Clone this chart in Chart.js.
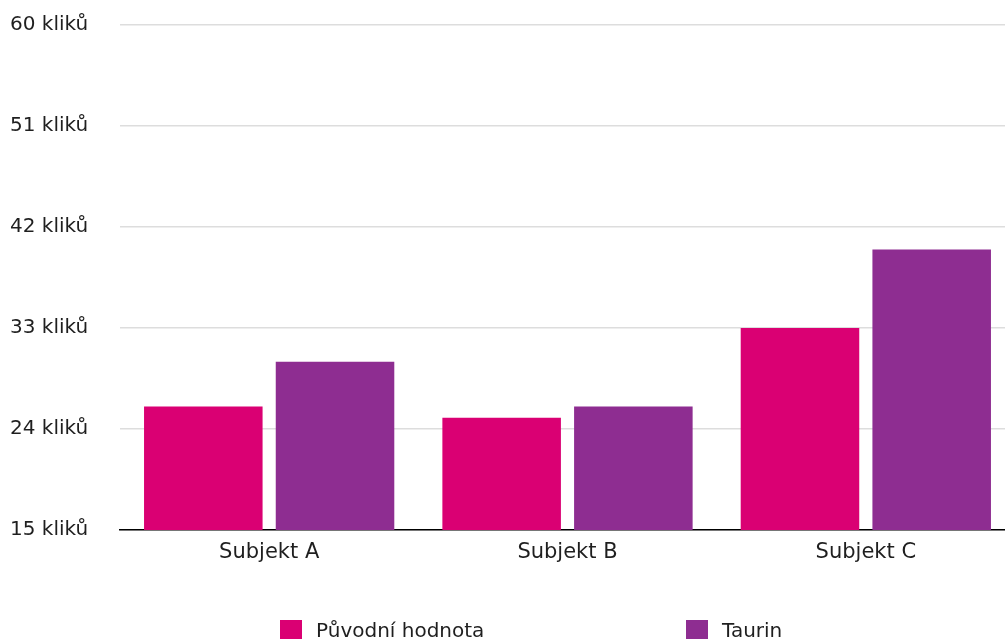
<!DOCTYPE html>
<html lang="cs">
<head>
    <meta charset="UTF-8">
    <title>Kliky</title>
    <style>
        html, body {
            margin: 0;
            padding: 0;
            background: #ffffff;
            overflow: hidden;
        }
        #wrap {
            width: 1015px; /* plot runs a little past the right edge, like the original */
            height: 639px;
            position: relative;
        }
    </style>
    <script src="https://cdn.jsdelivr.net/npm/chart.js"></script>
</head>
<body>
    <div id="wrap"><canvas id="klikyChart"></canvas></div>
    <script>
        const subjects = ['Subjekt A', 'Subjekt B', 'Subjekt C'];
        const puvodniHodnota = [26, 25, 33];
        const taurin = [30, 26, 40];
        const yTicks = [15, 24, 33, 42, 51, 60];

        const FONT = '"DejaVu Sans", sans-serif';
        const TEXT = '#1f1f1f';

        // legend drawn under the plot, items spread out like the original
        const bottomLegend = {
            id: 'bottomLegend',
            afterDraw(chart) {
                const ctx = chart.ctx;
                const starts = [280, 686];
                const y = chart.chartArea.bottom + 90;
                ctx.save();
                ctx.font = '20px ' + FONT;
                ctx.textBaseline = 'middle';
                ctx.textAlign = 'left';
                chart.data.datasets.forEach((ds, i) => {
                    ctx.fillStyle = ds.backgroundColor;
                    ctx.fillRect(starts[i], y, 22, 22);
                    ctx.fillStyle = TEXT;
                    ctx.fillText(ds.label, starts[i] + 36, y + 12);
                });
                ctx.restore();
            }
        };

        new Chart(document.getElementById('klikyChart'), {
            type: 'bar',
            data: {
                labels: subjects,
                datasets: [{
                    label: 'Původní hodnota',
                    data: puvodniHodnota,
                    backgroundColor: '#da0073'
                }, {
                    label: 'Taurin',
                    data: taurin,
                    backgroundColor: '#8e2d91'
                }]
            },
            options: {
                responsive: true,
                maintainAspectRatio: false,
                animation: false,
                categoryPercentage: 0.883,
                barPercentage: 0.9,
                layout: { padding: { left: 10, right: 0, top: 25, bottom: 0 } },
                plugins: {
                    legend: { display: false },
                    tooltip: { enabled: false }
                },
                scales: {
                    x: {
                        grid: { display: false, drawTicks: false },
                        border: { display: true, color: '#000000', width: 1.5 },
                        ticks: { color: TEXT, font: { family: FONT, size: 21 }, padding: 10 },
                        afterFit(scale) { scale.height = 109; }
                    },
                    y: {
                        min: yTicks[0],
                        max: yTicks[yTicks.length - 1],
                        afterBuildTicks(scale) {
                            scale.ticks = yTicks.map(v => ({ value: v }));
                        },
                        grid: { color: '#dddddd', lineWidth: 1.5, drawTicks: false },
                        border: { display: false },
                        ticks: {
                            color: TEXT,
                            crossAlign: 'far',
                            font: { family: FONT, size: 20 },
                            callback: v => v + ' kliků'
                        },
                        afterFit(scale) { scale.width = 110; }
                    }
                }
            },
            plugins: [bottomLegend]
        });
    </script>
</body>
</html>
